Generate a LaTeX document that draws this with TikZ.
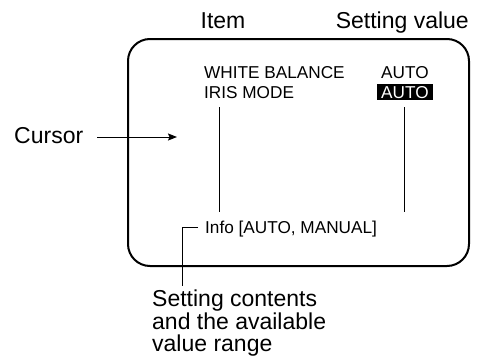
\documentclass[tikz,border=0pt]{standalone}
\usepackage{fontspec}
\setmainfont{Liberation Sans}
\usetikzlibrary{arrows.meta}
\begin{document}
\begin{tikzpicture}[x=1pt,y=-1pt,
  big/.style={font=\fontsize{23}{22.5}\selectfont, inner sep=0pt},
  small/.style={font=\fontsize{17.2}{18}\selectfont, inner sep=0pt},
  frame/.style={line width=2pt, rounded corners=22pt},
  thin/.style={line width=1pt},
]
\useasboundingbox (0,0) rectangle (479,356);
\draw[frame] (128,39) rectangle (469,266);
\node[big, anchor=base] (item) at (223,28) {Item};
\node[big, anchor=base east] (setval) at (469,28) {Setting value};
\node[small, anchor=base west] (wb) at (204,78) {WHITE BALANCE};
\node[small, anchor=base west] (iris) at (204,98) {IRIS MODE};
\node[small, anchor=base west] (auto1) at (381,78) {AUTO};
\node[small, anchor=base west, fill=black, text=white, inner xsep=4pt, inner ysep=1.5pt] (auto2) at (377,98) {AUTO};
\coordinate (lt) at (219,107);
\coordinate (lb) at (219,212);
\coordinate (rt) at (404,107);
\coordinate (rb) at (404,212);
\draw[thin] (lt) -- (lb);
\draw[thin] (rt) -- (rb);
\node[big, anchor=base west] (cursor) at (14,143) {Cursor};
\coordinate (cstart) at (97,137);
\coordinate (cur) at (177,137);
\draw[thin, -{Stealth[length=9pt,width=7pt,inset=1.5pt]}] (cstart) -- (cur);
\node[small, anchor=base west] (info) at (205,233) {Info [AUTO, MANUAL]};
\node[big, anchor=north west, align=left] (desc) at (152,290) {Setting contents\\and the available\\value range};
\coordinate (bk1) at (198,227);
\coordinate (bk2) at (182,227);
\coordinate (bk3) at (182,286);
\draw[thin] (bk1) -- (bk2) -- (bk3);
\end{tikzpicture}
\end{document}
